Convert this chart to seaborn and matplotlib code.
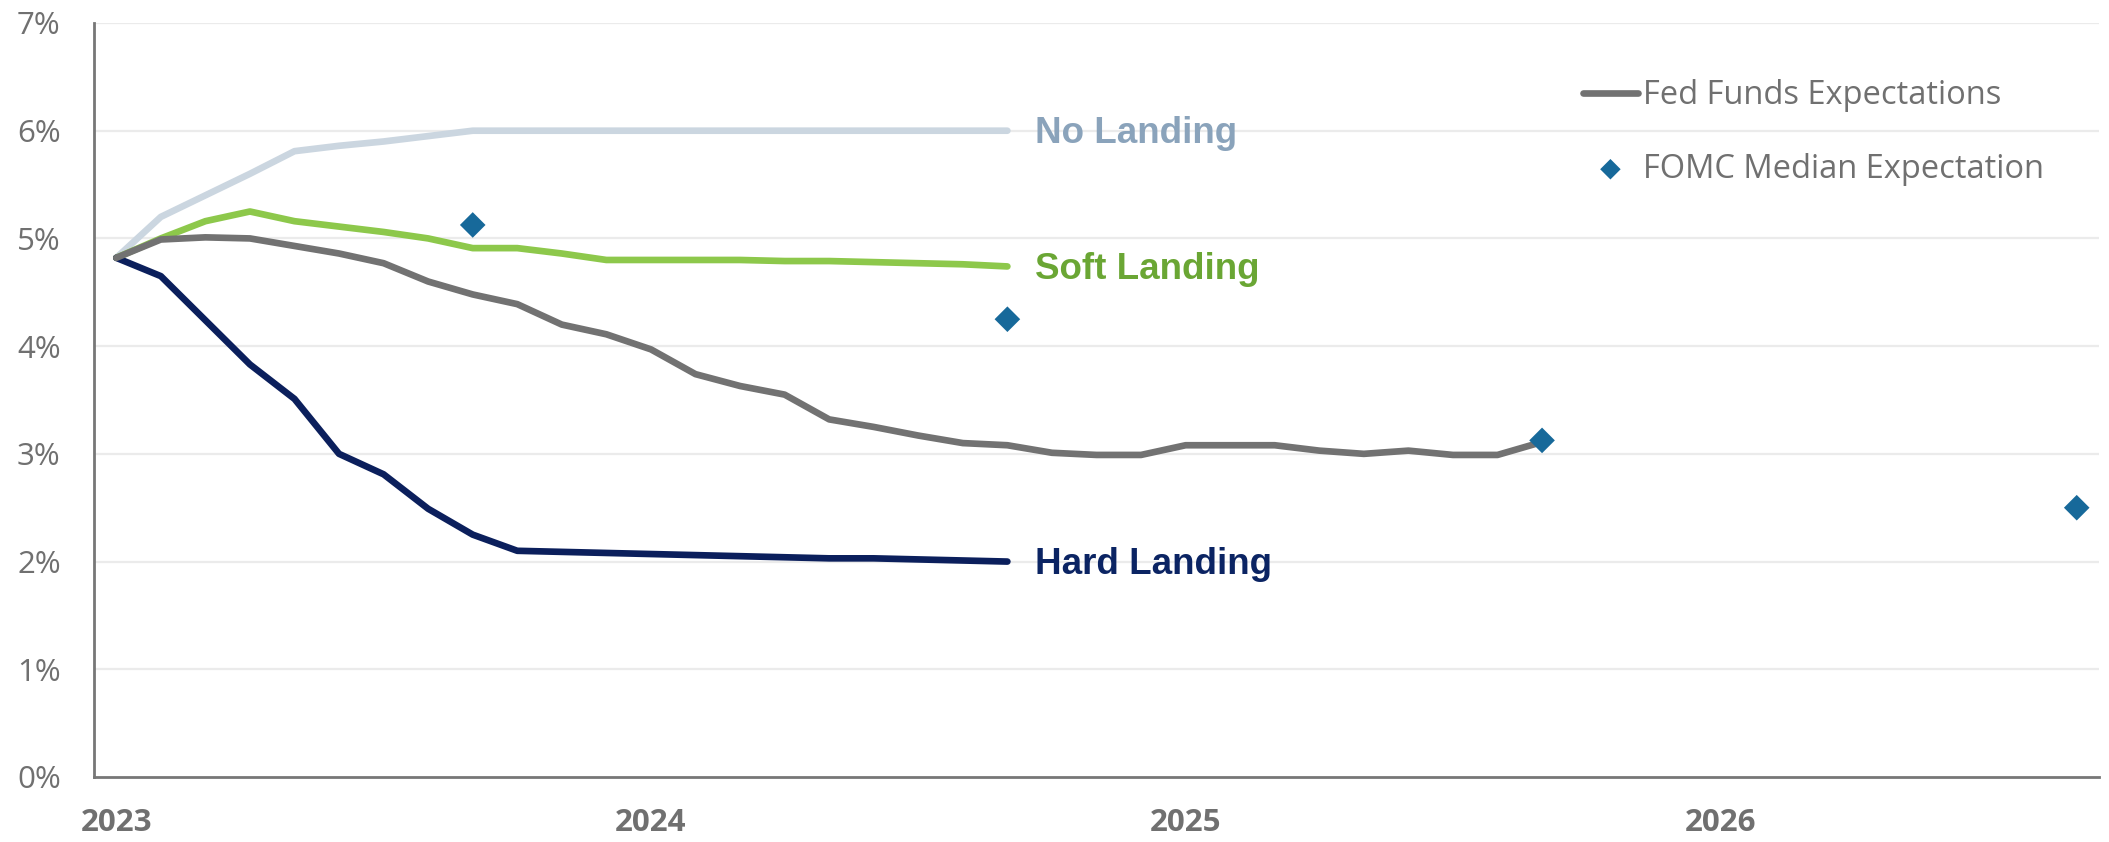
import numpy as np
import pandas as pd
import matplotlib
matplotlib.use("Agg")
import matplotlib.pyplot as plt
import seaborn as sns

# Monthly path index (0 = start of 2023)
fed_funds = [4.82, 4.99, 5.01, 5.00, 4.93, 4.86, 4.77, 4.60, 4.48, 4.39, 4.20,
             4.11, 3.97, 3.74, 3.63, 3.55, 3.32, 3.25, 3.17, 3.10, 3.08, 3.01,
             2.99, 2.99, 3.08, 3.08, 3.08, 3.03, 3.00, 3.03, 2.99, 2.99, 3.11]
no_landing = [4.82, 5.20, 5.40, 5.60, 5.81, 5.86, 5.90, 5.95, 6.00, 6.00, 6.00,
              6.00, 6.00, 6.00, 6.00, 6.00, 6.00, 6.00, 6.00, 6.00, 6.00]
soft_landing = [4.82, 5.00, 5.16, 5.25, 5.16, 5.11, 5.06, 5.00, 4.91, 4.91, 4.86,
                4.80, 4.80, 4.80, 4.80, 4.79, 4.79, 4.78, 4.77, 4.76, 4.74]
hard_landing = [4.82, 4.65, 4.24, 3.83, 3.51, 3.00, 2.81, 2.49, 2.25, 2.10, 2.09,
                2.08, 2.07, 2.06, 2.05, 2.04, 2.03, 2.03, 2.02, 2.01, 2.00]
fomc_month = [8, 20, 32, 44]
fomc_median = [5.125, 4.25, 3.125, 2.50]
year_ticks = [0, 12, 24, 36]
year_labels = ["2023", "2024", "2025", "2026"]
pct_ticks = [0, 1, 2, 3, 4, 5, 6, 7]

sns.set_theme(style="white")
plt.rcParams["font.family"] = ["Open Sans", "DejaVu Sans"]

GRAY_TXT = "#707070"
fig = plt.figure(figsize=(21.09, 8.42), dpi=100)
ax = fig.add_axes([94 / 2109, 1 - 777 / 842, (2099 - 94) / 2109, (777 - 23) / 842])

for y in pct_ticks[1:]:
    ax.axhline(y, color="#ebebeb", lw=1.6, zorder=0)

scen = [
    (no_landing, "#cbd6e0", "No Landing", "#8aa3bb"),
    (soft_landing, "#8dc84b", "Soft Landing", "#6aa634"),
    (hard_landing, "#0b1f5c", "Hard Landing", "#0b2463"),
]
for vals, col, name, tcol in scen:
    m = np.arange(len(vals))
    sns.lineplot(x=m, y=vals, ax=ax, color=col, lw=4.8, zorder=3,
                 solid_capstyle="round")
    ax.annotate(name, xy=(m[-1], vals[-1]), xytext=(20, -9),
                textcoords="offset points", ha="left", va="baseline",
                fontsize=26.5, fontweight="bold", color=tcol,
                family=["Liberation Sans", "DejaVu Sans"])

sns.lineplot(x=np.arange(len(fed_funds)), y=fed_funds, ax=ax, color="#727272",
             lw=4.8, zorder=4, label="Fed Funds Expectations",
             solid_capstyle="round")
sns.scatterplot(x=fomc_month, y=fomc_median, ax=ax, marker="D", s=170,
                color="#17699a", edgecolor="none", zorder=5,
                label="FOMC Median Expectation")

ax.set_xlim(-0.5, 44.5)
ax.set_ylim(0, 7)
ax.set_xticks(year_ticks)
ax.set_xticklabels(year_labels, fontsize=22.5, fontweight="bold", color=GRAY_TXT)
ax.set_yticks(pct_ticks)
ax.set_yticklabels([f"{v}%" for v in pct_ticks], fontsize=22.5, color=GRAY_TXT)
ax.tick_params(axis="x", length=0, pad=22)
ax.tick_params(axis="y", length=0, pad=24)
ax.set_xlabel("")
ax.set_ylabel("")
for side in ["top", "right"]:
    ax.spines[side].set_visible(False)
for side in ["left", "bottom"]:
    ax.spines[side].set_color("#777777")
    ax.spines[side].set_linewidth(2.0)

leg = ax.legend(loc="upper left", bbox_to_anchor=(1583 / 2109, 1 - 79 / 842),
                bbox_transform=fig.transFigure, frameon=False, fontsize=23.5,
                handlelength=1.68, handletextpad=0.16, labelspacing=1.25,
                borderpad=0, borderaxespad=0, markerscale=0.8)
for t in leg.get_texts():
    t.set_color(GRAY_TXT)

fig.savefig("out.png", dpi=100, facecolor="white")
